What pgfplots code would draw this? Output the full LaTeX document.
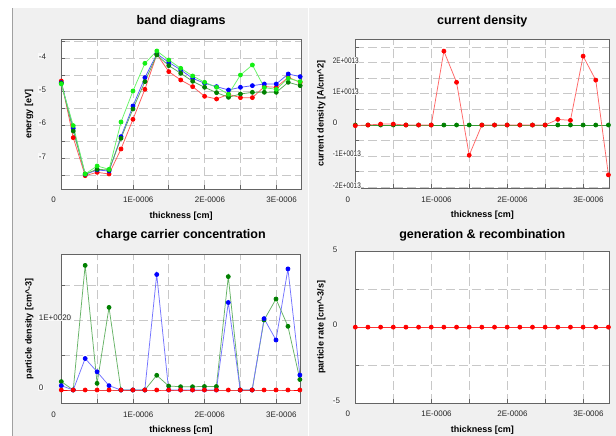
\documentclass[border=0pt]{standalone}
\usepackage{fontspec}
\setmainfont{Liberation Sans}
\usepackage{graphicx}
\usepackage{pgfplots}
\pgfplotsset{compat=1.18}
\usepackage{pgfplotstable}

\definecolor{bg}{RGB}{240,240,240}
\definecolor{gridc}{RGB}{200,200,200}
\definecolor{framec}{RGB}{100,100,100}
\definecolor{labelbg}{RGB}{249,249,249}
\definecolor{sepline}{RGB}{160,160,160}
\definecolor{lgreen}{RGB}{20,240,20}
\definecolor{dgreen}{RGB}{0,128,0}

\newcommand{\sq}[1]{\scalebox{0.8}[1]{#1}}

\pgfplotstableread{
x          red    blue   dg     lg
0          -4.68  -4.73  -4.75  -4.77
0.16667e-6 -6.38  -6.10  -6.18  -6.02
0.33333e-6 -7.52  -7.48  -7.47  -7.47
0.5e-6     -7.42  -7.35  -7.33  -7.23
0.66667e-6 -7.47  -7.38  -7.35  -7.33
0.83333e-6 -6.72  -6.35  -6.40  -5.91
1e-6       -5.83  -5.43  -5.52  -4.98
1.16667e-6 -4.93  -4.58  -4.70  -4.15
1.33333e-6 -3.88  -3.87  -3.90  -3.78
1.5e-6     -4.40  -4.12  -4.22  -4.05
1.66667e-6 -4.65  -4.35  -4.45  -4.30
1.83333e-6 -4.85  -4.60  -4.69  -4.53
2e-6       -5.14  -4.75  -4.87  -4.72
2.16667e-6 -5.22  -4.85  -5.03  -4.87
2.33333e-6 -5.08  -4.95  -5.17  -5.08
2.5e-6     -5.18  -4.87  -5.07  -4.50
2.66667e-6 -5.18  -4.82  -5.02  -4.20
2.83333e-6 -4.85  -4.77  -5.02  -4.88
3e-6       -4.87  -4.77  -5.02  -4.93
3.16667e-6 -4.57  -4.47  -4.72  -4.60
3.33333e-6 -4.72  -4.55  -4.82  -4.70
}\band

\pgfplotstableread{
x          red       green
0          -0.02e13  0
0.16667e-6 0         0
0.33333e-6 0.03e13   0
0.5e-6     0.03e13   0
0.66667e-6 0         0
0.83333e-6 0         0
1e-6       0         0
1.16667e-6 2.37e13   0
1.33333e-6 1.37e13   0
1.5e-6     -0.97e13  0
1.66667e-6 0         0
1.83333e-6 0         0
2e-6       0         0
2.16667e-6 0         0
2.33333e-6 0         0
2.5e-6     0         0
2.66667e-6 0.18e13   0
2.83333e-6 0.15e13   0
3e-6       2.21e13   0
3.16667e-6 1.44e13   0
3.33333e-6 -1.60e13  0
}\current

\pgfplotstableread{
x          blue      green     red
0          0.062e20  0.12e20   0
0.16667e-6 0         0         0
0.33333e-6 0.45e20   1.78e20   0
0.5e-6     0.26e20   0.095e20  0
0.66667e-6 0.062e20  1.18e20   0
0.83333e-6 0         0         0
1e-6       0         0         0
1.16667e-6 0         0         0
1.33333e-6 1.65e20   0.21e20   0
1.5e-6     0         0.057e20  0
1.66667e-6 0         0.047e20  0
1.83333e-6 0         0.047e20  0
2e-6       0         0.05e20   0
2.16667e-6 0         0.05e20   0
2.33333e-6 1.25e20   1.62e20   0
2.5e-6     0         0         0
2.66667e-6 0         0         0
2.83333e-6 1.02e20   1.00e20   0
3e-6       0.714e20  1.30e20   0
3.16667e-6 1.73e20   0.91e20   0
3.33333e-6 0.214e20  0.15e20   0
}\charge

\pgfplotstableread{
x          red
0          0
0.16667e-6 0
0.33333e-6 0
0.5e-6     0
0.66667e-6 0
0.83333e-6 0
1e-6       0
1.16667e-6 0
1.33333e-6 0
1.5e-6     0
1.66667e-6 0
1.83333e-6 0
2e-6       0
2.16667e-6 0
2.33333e-6 0
2.5e-6     0
2.66667e-6 0
2.83333e-6 0
3e-6       0
3.16667e-6 0
3.33333e-6 0
}\gen

\pgfplotsset{scapsaxis/.style={
  scale only axis, anchor=south west,
  axis background/.style={fill=white},
  axis line style={framec, line width=0.9pt},
  grid=both,
  major grid style={gridc, dash pattern=on 9pt off 4pt, line width=0.7pt},
  minor grid style={gridc, dash pattern=on 9pt off 4pt, line width=0.7pt},
  tick pos=left, tick align=inside,
  major tick length=4pt, minor tick length=4pt,
  every tick/.style={framec, line width=0.6pt},
  scaled ticks=false,
  xmin=0, xmax=3.345e-6,
  xtick={0,1e-6,2e-6,3e-6}, minor xtick={0.5e-6,1.5e-6,2.5e-6},
  xticklabels={0,1E-0006,2E-0006,3E-0006},
  ticklabel style={font=\fontsize{8}{9}\selectfont, text=black!85, inner sep=0pt},
  xticklabel style={anchor=west, xshift=-10pt, yshift=-11pt},
  yticklabel style={anchor=west, xshift=-23pt, yshift=2pt, fill=labelbg, inner sep=0.4pt},
  title style={font=\bfseries\fontsize{12.5}{13}\selectfont, at={(axis description cs:0.5,1)}, anchor=center, yshift=12.5pt},
  xlabel={thickness [cm]},
  label style={font=\bfseries\fontsize{9}{10}\selectfont},
  xlabel style={at={(axis description cs:0.5,0)}, anchor=center, yshift=-27pt},
  ylabel style={at={(axis description cs:-0.134,0.5)}, anchor=center},
  every axis plot/.append style={line width=0.75pt, mark=*, mark size=2pt},
}}

\begin{document}
\begin{tikzpicture}
\path[use as bounding box] (0pt,0pt) rectangle (616pt,436pt);
\fill[bg] (0pt,0pt) rectangle (616pt,436pt);
\fill[white] (0pt,428pt) rectangle (616pt,436pt);
\fill[white] (0pt,0pt) rectangle (12.7pt,428pt);
\draw[sepline, line width=0.8pt] (12.7pt,0pt) -- (12.7pt,428pt);
\draw[white, line width=1pt] (308.3pt,0pt) -- (308.3pt,428pt);

% band diagrams
\begin{axis}[scapsaxis, at={(61.3pt,247pt)}, width=239.7pt, height=149.7pt,
  title={band diagrams}, ylabel={energy [eV]},
  ymin=-7.92, ymax=-3.43,
  ytick={-7,-6,-5,-4}, minor ytick={-7.5,-6.5,-5.5,-4.5,-3.5},
  yticklabels={-7,-6,-5,-4}]
\addplot[color=red!65, mark options={fill=red, draw=red}] table[x=x, y=red] {\band};
\addplot[color=blue!65, mark options={fill=blue, draw=blue}] table[x=x, y=blue] {\band};
\addplot[color=dgreen!65, mark options={fill=dgreen, draw=dgreen}] table[x=x, y=dg] {\band};
\addplot[color=lgreen!65, mark options={fill=lgreen, draw=lgreen}] table[x=x, y=lg] {\band};
\end{axis}

% current density
\begin{axis}[scapsaxis, at={(355.3pt,247.7pt)}, width=254pt, height=149pt,
  title={current density}, ylabel={current density [A/cm\textasciicircum 2]},
  ymin=-2.03e13, ymax=2.75e13,
  ytick={-2e13,-1e13,0,1e13,2e13}, minor ytick={-1.5e13,-0.5e13,0.5e13,1.5e13,2.5e13},
  yticklabels={\sq{-2E+0013},\sq{-1E+0013},0,\sq{1E+0013},\sq{2E+0013}}]
\addplot[color=dgreen!80, mark options={fill=dgreen, draw=dgreen}] table[x=x, y=green] {\current};
\addplot[color=red!60, mark options={fill=red, draw=red}] table[x=x, y=red] {\current};
\end{axis}

% charge carrier concentration
\begin{axis}[scapsaxis, at={(61.3pt,32.7pt)}, width=239.4pt, height=149.3pt,
  title={charge carrier concentration}, ylabel={particle density [cm\textasciicircum -3]},
  ymin=-0.19e20, ymax=1.943e20,
  ytick={0,1e20}, minor ytick={0.5e20,1.5e20},
  yticklabels={0,1E+0020}]
\addplot[color=dgreen!60, mark options={fill=dgreen, draw=dgreen}] table[x=x, y=green] {\charge};
\addplot[color=blue!55, mark options={fill=blue, draw=blue}] table[x=x, y=blue] {\charge};
\addplot[color=red, mark options={fill=red, draw=red}] table[x=x, y=red] {\charge};
\end{axis}

% generation & recombination
\begin{axis}[scapsaxis, at={(355.3pt,33pt)}, width=254pt, height=151.7pt,
  title={generation \& recombination}, title style={yshift=-2.5pt},
  ylabel={particle rate [cm\textasciicircum -3/s]},
  ymin=-5, ymax=5,
  ytick={-5,0,5}, minor ytick={-2.5,2.5},
  yticklabels={-5,0,5}]
\addplot[color=red!80, mark options={fill=red, draw=red}] table[x=x, y=red] {\gen};
\end{axis}
\end{tikzpicture}
\end{document}
